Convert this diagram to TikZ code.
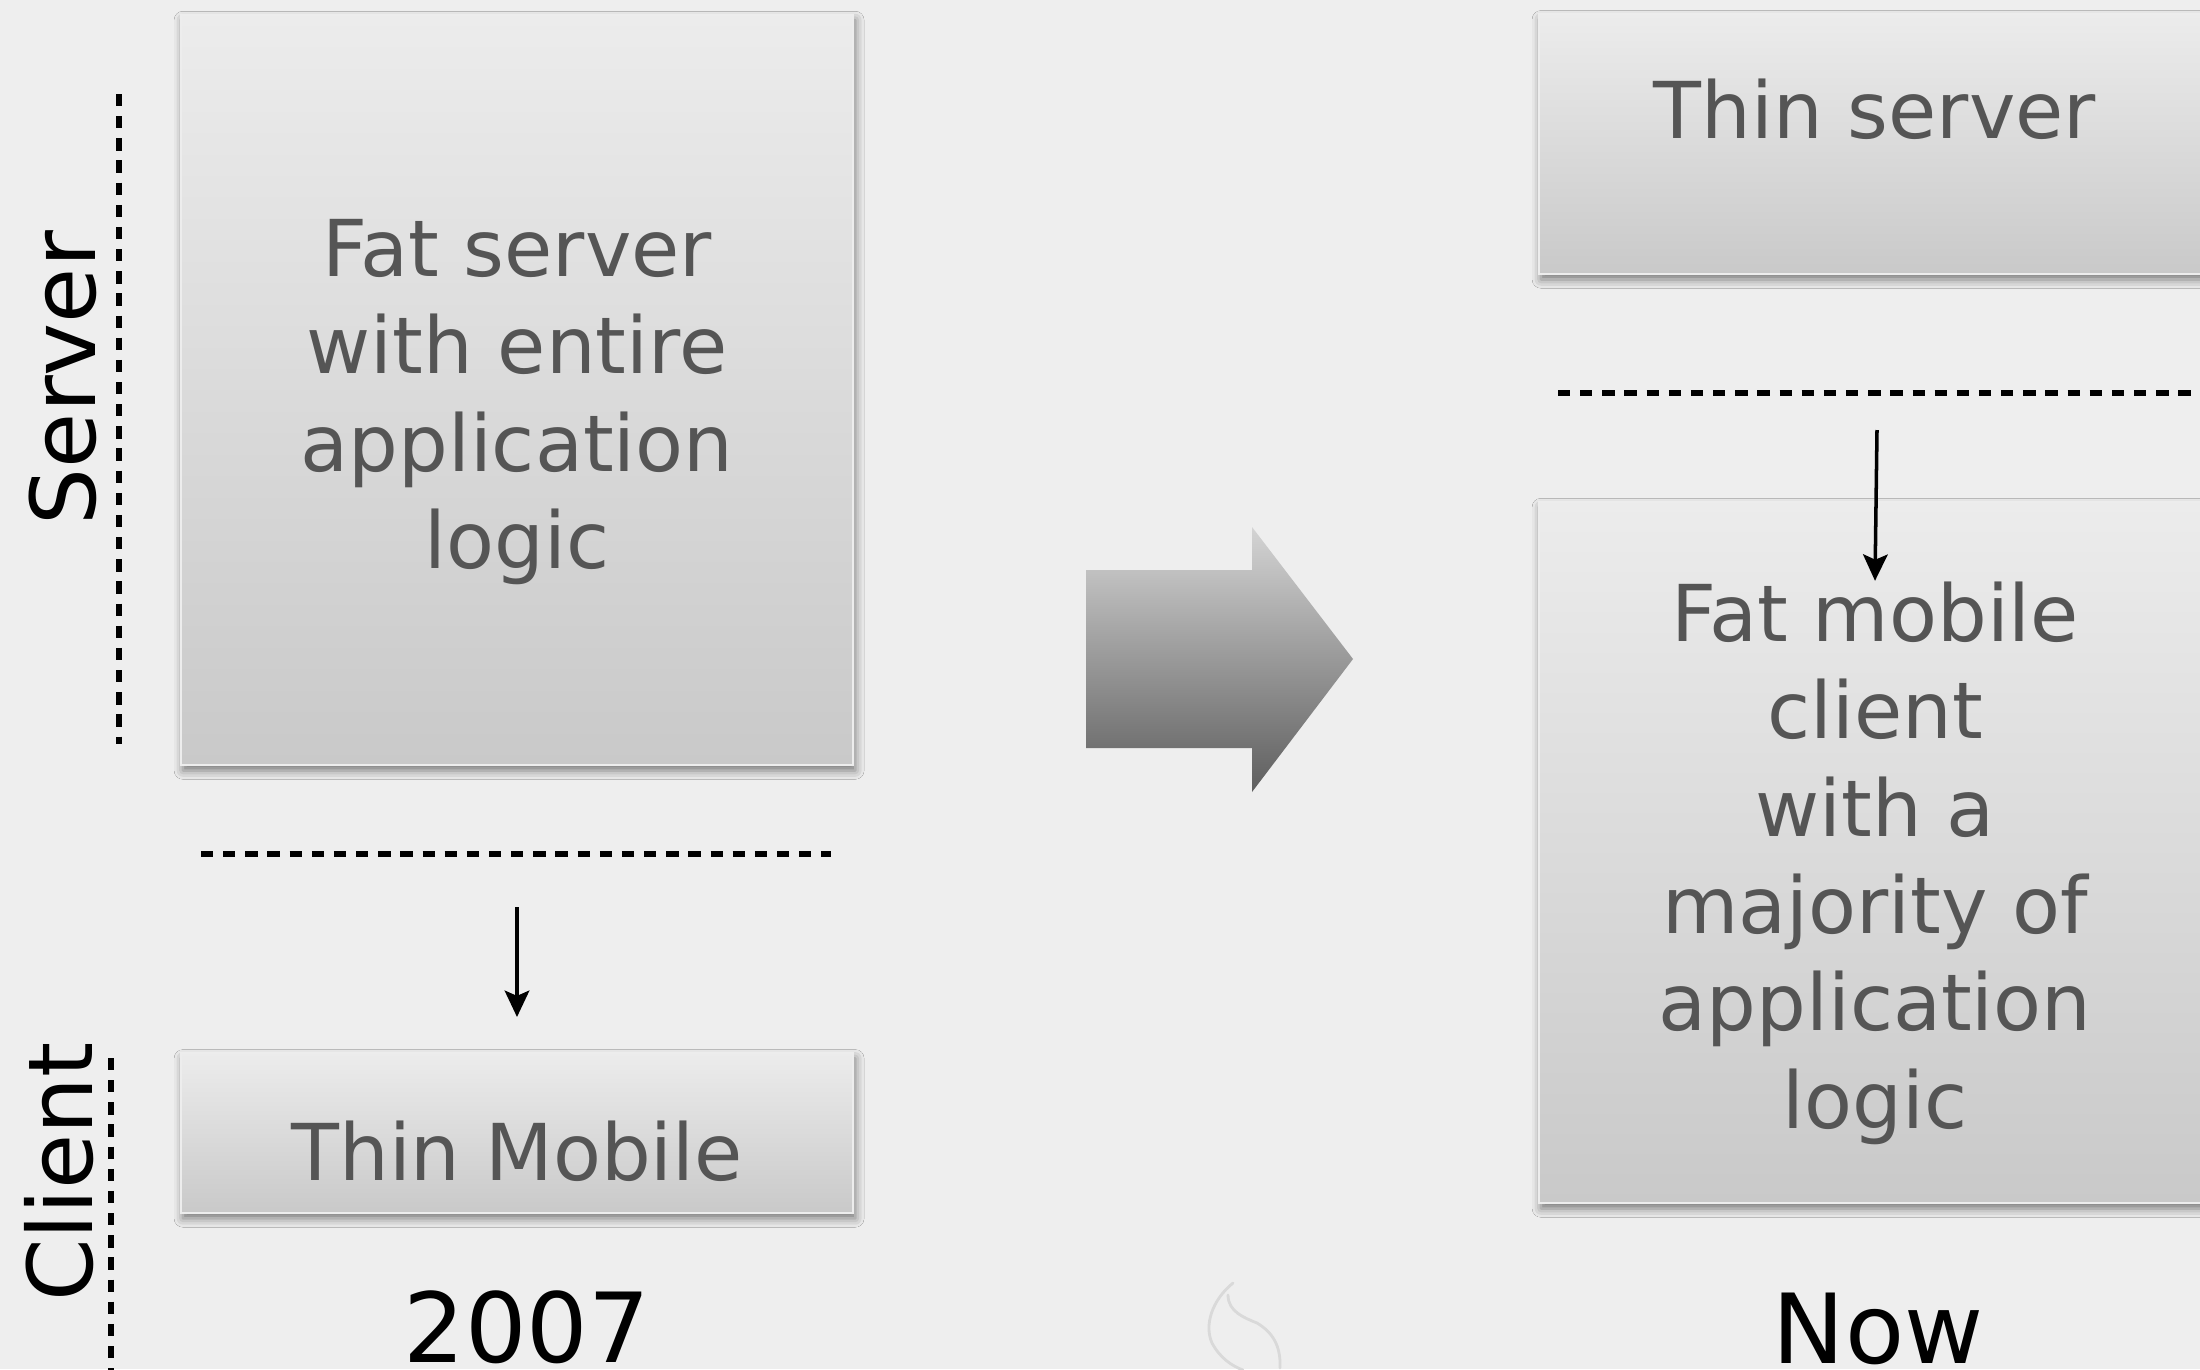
\documentclass[tikz,border=0pt]{standalone}
\usepackage{fontspec}
\setmainfont{DejaVu Sans}
\usetikzlibrary{arrows.meta,shadows.blur}
\definecolor{bg}{RGB}{238,238,238}
\definecolor{boxtop}{RGB}{236,236,236}
\definecolor{boxbot}{RGB}{201,201,201}
\definecolor{boxtext}{RGB}{85,85,85}
\definecolor{arrtop}{RGB}{212,212,212}
\definecolor{arrbot}{RGB}{94,94,94}
\tikzset{
  panel/.style={draw=white!93!black, line width=0.6pt, top color=boxtop, bottom color=boxbot,
    text=boxtext, minimum width=6.72cm, inner sep=0pt, align=center,
    font=\fontsize{22.3}{27.7}\selectfont,
    blur shadow={shadow xshift=0.6pt, shadow yshift=-1.5pt, shadow blur radius=2.5pt, shadow opacity=50}},
  sidelabel/.style={rotate=90, anchor=base, font=\fontsize{25.5}{30}\selectfont, text=black, inner sep=0pt},
  yearlabel/.style={anchor=base, font=\fontsize{27.5}{32}\selectfont, text=black, inner sep=0pt},
  divider/.style={line width=1.5pt, dash pattern=on 3.5pt off 2.8pt},
  flow/.style={line width=1pt, -{Stealth[length=7.5pt,width=7pt,inset=1.5pt]}},
  watermark/.style={line width=0.8pt, draw=black!15, line cap=round},
}
\begin{document}
\begin{tikzpicture}[x=0.01cm,y=-0.01cm]
\useasboundingbox (0,0) rectangle (2200,1369);
\fill[bg] (0,0) rectangle (2200,1369);

% side labels and dividers
\node[sidelabel] (lserver) at (95,378) {Server};
\node[sidelabel] (lclient) at (92,1172) {Client};
\draw[divider] (119,94) -- (119,744);
\draw[divider] (111,1058) -- (111,1372);
\draw[divider] (201,854) -- (831,854);
\draw[divider] (1558,393) -- (2205,393);

% left column (2007)
\node[panel, minimum height=7.5cm] (fatserver) at (517,390)
  {\rule{0pt}{23pt}Fat server\\with entire\\application\\logic};
\node[panel, anchor=north, text height=1.27cm, text depth=0.33cm] (thinmobile) at (517,1052)
  {Thin Mobile};
\coordinate (a1s) at (517,907);
\draw[flow, shorten >=0.35cm] (a1s) -- (thinmobile.north);
\node[yearlabel] (y2007) at (527,1362) {2007};

% transition arrow
\shade[top color=arrtop, bottom color=arrbot]
  (1086,570) -- (1252,570) -- (1252,527) -- (1353,659) -- (1252,792) -- (1252,748) -- (1086,748) -- cycle;

% right column (Now)
\node[panel, anchor=north, text height=1.24cm, text depth=1.36cm] (thinserver) at (1875,13)
  {Thin server};
\node[panel, minimum height=7.01cm] (fatmobile) at (1875,852.5)
  {\rule{0pt}{23pt}Fat mobile\\client\\with a\\majority of\\application\\logic};
\coordinate (a2s) at (1877,430);
\draw[flow] (a2s) -- ([yshift=-0.8cm]fatmobile.north);
\node[yearlabel] (ynow) at (1878,1363) {Now};

% faint watermark
\draw[watermark] (1233,1283) .. controls (1212,1300) and (1204,1325) .. (1212,1343) .. controls (1220,1358) and (1232,1366) .. (1243,1370);
\draw[watermark] (1228,1295) .. controls (1228,1312) and (1245,1318) .. (1257,1323) .. controls (1272,1332) and (1281,1345) .. (1280,1368);
\end{tikzpicture}
\end{document}
